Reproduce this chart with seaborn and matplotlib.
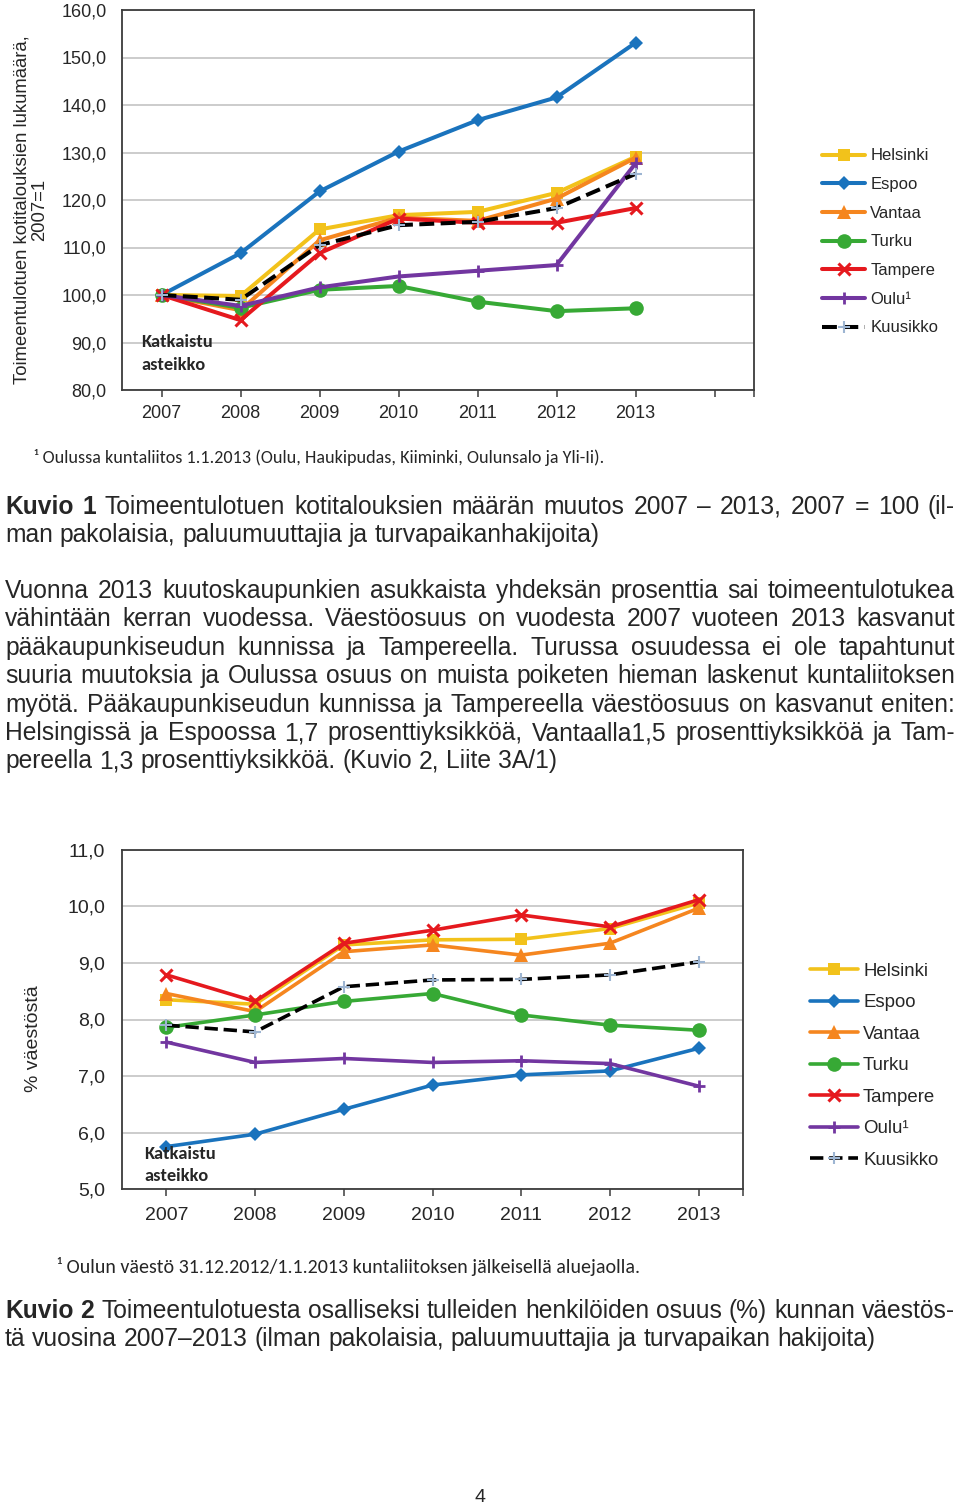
import numpy as np
import pandas as pd
import matplotlib
matplotlib.use("Agg")
import matplotlib.pyplot as plt
import seaborn as sns

W, H = 960, 1511

years = [2007, 2008, 2009, 2010, 2011, 2012, 2013]
cities = ["Helsinki", "Espoo", "Vantaa", "Turku", "Tampere", "Oulu¹", "Kuusikko"]

# Kuvio 1: kotitalouksien lukumäärä, 2007 = 100
hel_hh = [100.0, 99.8, 113.8, 116.8, 117.5, 121.5, 129.1]
esp_hh = [100.0, 108.8, 121.8, 130.2, 136.8, 141.6, 153.1]
van_hh = [100.0, 96.8, 111.5, 116.3, 115.6, 120.3, 128.9]
tur_hh = [100.0, 97.3, 101.1, 101.9, 98.6, 96.6, 97.2]
tam_hh = [100.0, 94.7, 108.8, 116.1, 115.2, 115.2, 118.3]
oul_hh = [100.0, 97.7, 101.6, 103.9, 105.1, 106.3, 127.7]
kuu_hh = [100.0, 99.0, 110.5, 114.7, 115.4, 118.3, 125.5]

# Kuvio 2: % väestöstä
hel_pct = [8.35, 8.27, 9.32, 9.41, 9.42, 9.61, 10.06]
esp_pct = [5.75, 5.97, 6.41, 6.84, 7.02, 7.09, 7.49]
van_pct = [8.46, 8.14, 9.20, 9.32, 9.14, 9.35, 9.97]
tur_pct = [7.86, 8.08, 8.32, 8.46, 8.08, 7.90, 7.81]
tam_pct = [8.79, 8.32, 9.35, 9.58, 9.85, 9.64, 10.12]
oul_pct = [7.60, 7.24, 7.31, 7.24, 7.27, 7.22, 6.82]
kuu_pct = [7.90, 7.78, 8.58, 8.70, 8.71, 8.79, 9.02]

hh = dict(zip(cities, [hel_hh, esp_hh, van_hh, tur_hh, tam_hh, oul_hh, kuu_hh]))
pct = dict(zip(cities, [hel_pct, esp_pct, van_pct, tur_pct, tam_pct, oul_pct, kuu_pct]))

styles = {
    "Helsinki": dict(color="#F2C21B", marker="s", ms=9, mew=0),
    "Espoo": dict(color="#1A73BD", marker="D", ms=7, mew=0),
    "Vantaa": dict(color="#F5861F", marker="^", ms=9.5, mew=0),
    "Turku": dict(color="#37A935", marker="o", ms=10.5, mew=0),
    "Tampere": dict(color="#E5191E", marker="x", ms=9, mew=2.2),
    "Oulu¹": dict(color="#7236A0", marker="+", ms=9, mew=2),
    "Kuusikko": dict(color="black", marker="+", ms=8, mew=1.5, mec="#9DB5D2", ls="--"),
}

sns.set_style("white")
plt.rcParams["font.family"] = ["Liberation Sans", "DejaVu Sans"]

fig = plt.figure(figsize=(W / 100, H / 100), dpi=100)


def ax_rect(left, top, right, bottom):
    return [left / W, 1 - bottom / H, (right - left) / W, (bottom - top) / H]


def draw_chart(ax, data, ylim, yticks, nslots, lw, tick_size, pad_y, pad_x):
    rows = []
    for c in cities:
        for yr, v in zip(years, data[c]):
            rows.append(dict(city=c, pos=yr - years[0], value=v))
    df = pd.DataFrame(rows)
    for c in cities:
        st = dict(styles[c])
        ls = st.pop("ls", "-")
        mec = st.pop("mec", st["color"])
        sns.lineplot(data=df[df.city == c], x="pos", y="value", ax=ax,
                     color=st["color"], marker=st["marker"], markersize=st["ms"],
                     markeredgewidth=st["mew"], markeredgecolor=mec,
                     markerfacecolor=st["color"] if st["marker"] not in "x+" else mec,
                     linewidth=lw, linestyle=ls, label=c, legend=False)
    ax.set_xlim(-0.5, nslots - 0.5)
    ax.set_ylim(*ylim)
    ax.set_yticks(yticks)
    ax.set_yticklabels([f"{v:.1f}".replace(".", ",") for v in yticks])
    xt = list(range(nslots)) + [nslots - 0.5]
    ax.set_xticks(xt)
    labels = [str(y) for y in years] + [""] * (len(xt) - len(years))
    ax.set_xticklabels(labels)
    ax.grid(axis="y", color="#BFBFBF", linewidth=1.1)
    ax.grid(axis="x", visible=False)
    for sp in ax.spines.values():
        sp.set_color("#3C3C3C")
        sp.set_linewidth(1.3)
    ax.tick_params(axis="x", length=5, width=1.1, color="#3C3C3C",
                   labelsize=tick_size, pad=pad_x, bottom=True)
    ax.tick_params(axis="y", length=0, labelsize=tick_size, pad=pad_y)
    ax.set_xlabel("")
    ax.set_ylabel("")
    if ax.get_legend() is not None:
        ax.get_legend().remove()


# ---- Kuvio 1 ----
ax1 = fig.add_axes(ax_rect(122, 10, 754, 390))
draw_chart(ax1, hh, (80, 160), np.arange(80, 161, 10), 8, 2.9, 13, 11, 6)
h, l = ax1.get_legend_handles_labels()
fig.legend(h, l, loc="upper left", bbox_to_anchor=(822 / W, 1 - 148.5 / H),
           frameon=False, fontsize=12, handlelength=2.6, handletextpad=0.3,
           labelspacing=0.82, borderpad=0, borderaxespad=0)
fig.text(31 / W, 1 - 210 / H, "Toimeentulotuen kotitalouksien lukumäärä,\n2007=1",
         rotation=90, ha="center", va="center", fontsize=13.3, linespacing=1.05,
         multialignment="center")
fig.text(141 / W, 1 - 342 / H, "Katkaistu", family="Carlito", weight="bold",
         fontsize=13.2, va="center")
fig.text(141 / W, 1 - 365 / H, "asteikko", family="Carlito", weight="bold",
         fontsize=13.2, va="center")

# ---- Kuvio 2 ----
ax2 = fig.add_axes(ax_rect(122, 850, 743, 1189))
draw_chart(ax2, pct, (5, 11), np.arange(5, 11.1, 1), 7, 2.6, 14, 12, 8)
h, l = ax2.get_legend_handles_labels()
fig.legend(h, l, loc="upper left", bbox_to_anchor=(810 / W, 1 - 962.5 / H),
           frameon=False, fontsize=13.4, handlelength=2.6, handletextpad=0.25,
           labelspacing=0.78, borderpad=0, borderaxespad=0)
fig.text(33 / W, 1 - 1039 / H, "% väestöstä", rotation=90, ha="center",
         va="center", fontsize=14)
fig.text(144 / W, 1 - 1154 / H, "Katkaistu", family="Carlito", weight="bold",
         fontsize=13.2, va="center")
fig.text(144 / W, 1 - 1176 / H, "asteikko", family="Carlito", weight="bold",
         fontsize=13.2, va="center")

# ---- text blocks ----
renderer = fig.canvas.get_renderer()
BODY = 17.75


def text_line(y_px, line, size=BODY, x0=5, x1=955, justify=True, bold_words=0):
    words = line.split(" ")
    texts = []
    for i, w in enumerate(words):
        texts.append(fig.text(0, 1 - y_px / H, w, fontsize=size, va="center",
                              weight="bold" if i < bold_words else "normal"))
    widths = [t.get_window_extent(renderer).width for t in texts]
    if justify and len(words) > 1:
        gap = (x1 - x0 - sum(widths)) / (len(words) - 1)
    else:
        gap = 0.278 * size * 100 / 72
    x = x0
    for t, w in zip(texts, widths):
        t.set_x(x / W)
        x += w + gap


fig.text(34 / W, 1 - 457 / H,
         "¹ Oulussa kuntaliitos 1.1.2013 (Oulu, Haukipudas, Kiiminki, Oulunsalo ja Yli-Ii).",
         family="Carlito", fontsize=13.1, va="center")

text_line(507, "Kuvio 1 Toimeentulotuen kotitalouksien määrän muutos 2007 – 2013, 2007 = 100 (il-",
          bold_words=2)
text_line(535, "man pakolaisia, paluumuuttajia ja turvapaikanhakijoita)", justify=False)

para = [
    "Vuonna 2013 kuutoskaupunkien asukkaista yhdeksän prosenttia sai toimeentulotukea",
    "vähintään kerran vuodessa. Väestöosuus on vuodesta 2007 vuoteen 2013 kasvanut",
    "pääkaupunkiseudun kunnissa ja Tampereella. Turussa osuudessa ei ole tapahtunut",
    "suuria muutoksia ja Oulussa osuus on muista poiketen hieman laskenut kuntaliitoksen",
    "myötä. Pääkaupunkiseudun kunnissa ja Tampereella väestöosuus on kasvanut eniten:",
    "Helsingissä ja Espoossa 1,7 prosenttiyksikköä, Vantaalla1,5 prosenttiyksikköä ja Tam-",
]
for i, line in enumerate(para):
    text_line(591 + i * 28.4, line)
text_line(761, "pereella 1,3 prosenttiyksikköä. (Kuvio 2, Liite 3A/1)", justify=False)

fig.text(57 / W, 1 - 1266 / H,
         "¹ Oulun väestö 31.12.2012/1.1.2013 kuntaliitoksen jälkeisellä aluejaolla.",
         family="Carlito", fontsize=14.4, va="center")

text_line(1311, "Kuvio 2 Toimeentulotuesta osalliseksi tulleiden henkilöiden osuus (%) kunnan väestös-",
          bold_words=2)
text_line(1339, "tä vuosina 2007–2013 (ilman pakolaisia, paluumuuttajia ja turvapaikan hakijoita)",
          justify=False)

fig.text(480 / W, 1 - 1497 / H, "4", fontsize=14, ha="center", va="center")

fig.savefig("out.png", dpi=100)
